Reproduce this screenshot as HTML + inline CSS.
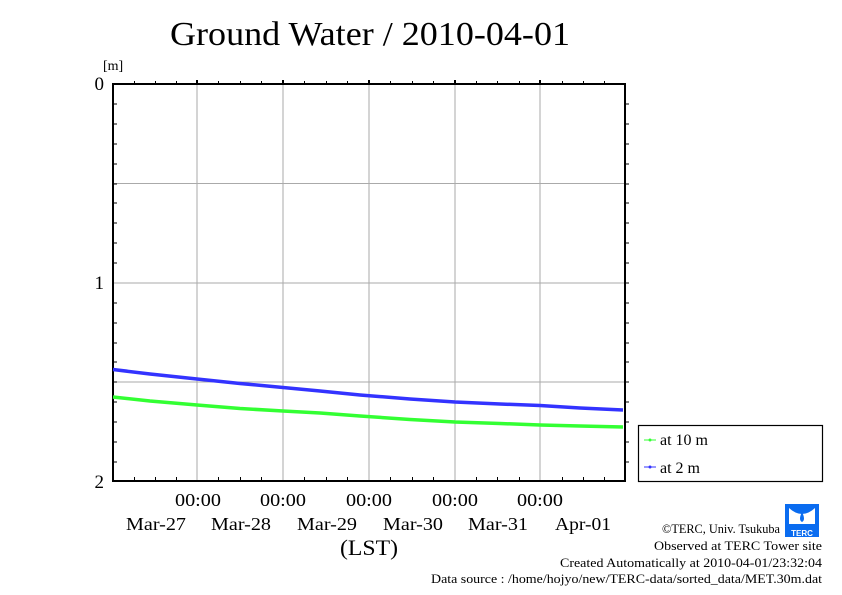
<!DOCTYPE html>
<html><head><meta charset="utf-8"><style>
html,body{margin:0;padding:0;background:#fff;}
svg{display:block;font-family:"Liberation Serif",serif;}
</style></head><body>
<svg width="842" height="595" viewBox="0 0 842 595" xmlns="http://www.w3.org/2000/svg">
<rect width="842" height="595" fill="#fff"/>
<text x="170" y="45" font-size="34" textLength="400" lengthAdjust="spacingAndGlyphs">Ground Water / 2010-04-01</text>
<text x="103" y="70" font-size="14">[m]</text>
<g stroke="#aaa" stroke-width="1">
<line x1="197" y1="84" x2="197" y2="482"/>
<line x1="283" y1="84" x2="283" y2="482"/>
<line x1="369" y1="84" x2="369" y2="482"/>
<line x1="455" y1="84" x2="455" y2="482"/>
<line x1="540" y1="84" x2="540" y2="482"/>
<line x1="113" y1="183.5" x2="625" y2="183.5"/>
<line x1="113" y1="283" x2="625" y2="283"/>
<line x1="113" y1="382" x2="625" y2="382"/>
</g>
<g stroke="#000" stroke-width="1">
<path d="M134.5 84v-3M155.5 84v-3M176.5 84v-3M218.5 84v-3M240.5 84v-3M261.5 84v-3M304.5 84v-3M326.5 84v-3M347.5 84v-3M390.5 84v-3M412.5 84v-3M433.5 84v-3M476.5 84v-3M497.5 84v-3M519.5 84v-3M562.5 84v-3M583.5 84v-3M604.5 84v-3"/>
<path d="M197 84v-4M283 84v-4M369 84v-4M455 84v-4M540 84v-4" stroke-width="2"/>
<path d="M134.5 481v-4M155.5 481v-4M176.5 481v-4M218.5 481v-4M240.5 481v-4M261.5 481v-4M304.5 481v-4M326.5 481v-4M347.5 481v-4M390.5 481v-4M412.5 481v-4M433.5 481v-4M476.5 481v-4M497.5 481v-4M519.5 481v-4M562.5 481v-4M583.5 481v-4M604.5 481v-4"/>
<path d="M113 104h4M113 124h4M113 144h4M113 164h4M113 184h4M113 203h4M113 223h4M113 243h4M113 263h4M113 303h4M113 323h4M113 343h4M113 362h4M113 382h4M113 402h4M113 422h4M113 442h4M113 462h4"/>
<path d="M625 104h4M625 124h4M625 144h4M625 164h4M625 184h4M625 203h4M625 223h4M625 243h4M625 263h4M625 283h4M625 303h4M625 323h4M625 343h4M625 362h4M625 382h4M625 402h4M625 422h4M625 442h4M625 462h4"/>
</g>
<line x1="112" y1="84" x2="626" y2="84" stroke="#000" stroke-width="2"/>
<line x1="112" y1="481" x2="626" y2="481" stroke="#000" stroke-width="2"/>
<line x1="113" y1="83" x2="113" y2="482" stroke="#000" stroke-width="2"/>
<line x1="625" y1="83" x2="625" y2="482" stroke="#000" stroke-width="2"/>
<polyline fill="none" stroke="#3333ff" stroke-width="3.5" points="113,369.5 150,374 197,379 240,383.5 283,387.5 320,391 360,395 410,399 455,402 500,404 540,405.5 580,408 623,410"/>
<polyline fill="none" stroke="#33ff33" stroke-width="3.5" points="113,397 150,401 197,405 240,408.5 283,411 320,413 360,416 410,419.5 455,422 500,423.5 540,425 580,426 623,427"/>
<g font-size="19" text-anchor="end">
<text x="104" y="90">0</text>
<text x="104" y="289">1</text>
<text x="104" y="488">2</text>
</g>
<g font-size="18">
<text x="175" y="506" textLength="46" lengthAdjust="spacingAndGlyphs">00:00</text>
<text x="260" y="506" textLength="46" lengthAdjust="spacingAndGlyphs">00:00</text>
<text x="346" y="506" textLength="46" lengthAdjust="spacingAndGlyphs">00:00</text>
<text x="432" y="506" textLength="46" lengthAdjust="spacingAndGlyphs">00:00</text>
<text x="517" y="506" textLength="46" lengthAdjust="spacingAndGlyphs">00:00</text>
<text x="126" y="530" textLength="60" lengthAdjust="spacingAndGlyphs">Mar-27</text>
<text x="211" y="530" textLength="60" lengthAdjust="spacingAndGlyphs">Mar-28</text>
<text x="297" y="530" textLength="60" lengthAdjust="spacingAndGlyphs">Mar-29</text>
<text x="383" y="530" textLength="60" lengthAdjust="spacingAndGlyphs">Mar-30</text>
<text x="468" y="530" textLength="60" lengthAdjust="spacingAndGlyphs">Mar-31</text>
<text x="555" y="530" textLength="56" lengthAdjust="spacingAndGlyphs">Apr-01</text>
</g>
<text x="340" y="555" font-size="22" textLength="58" lengthAdjust="spacingAndGlyphs">(LST)</text>
<rect x="638.5" y="425.5" width="184" height="56" fill="#fff" stroke="#000" stroke-width="1.2"/>
<line x1="644" y1="440" x2="656" y2="440" stroke="#33ff33"/><circle cx="650" cy="440" r="1.5" fill="#33ff33"/>
<line x1="644" y1="467" x2="656" y2="467" stroke="#3333ff"/><circle cx="650" cy="467" r="1.5" fill="#3333ff"/>
<text x="660" y="445" font-size="16">at 10 m</text>
<text x="660" y="473" font-size="16">at 2 m</text>
<g font-size="13">
<text x="662" y="533" textLength="118" lengthAdjust="spacingAndGlyphs">©TERC, Univ. Tsukuba</text>
<text x="654" y="550" textLength="168" lengthAdjust="spacingAndGlyphs">Observed at TERC Tower site</text>
<text x="560" y="567" textLength="262" lengthAdjust="spacingAndGlyphs">Created Automatically at 2010-04-01/23:32:04</text>
<text x="431" y="583" textLength="391" lengthAdjust="spacingAndGlyphs">Data source : /home/hojyo/new/TERC-data/sorted_data/MET.30m.dat</text>
</g>
<rect x="785" y="504" width="34" height="33" fill="#0a6cf0"/>
<path d="M789 508 Q802 520 815 508 L815 524 L789 524Z" fill="#fff"/>
<path d="M802 512 Q798 520 802 522 Q806 520 802 512Z" fill="#0a6cf0"/>
<text x="802" y="536" font-size="8" fill="#fff" text-anchor="middle" font-family="Liberation Sans,sans-serif" font-weight="bold">TERC</text>
</svg>
</body></html>
